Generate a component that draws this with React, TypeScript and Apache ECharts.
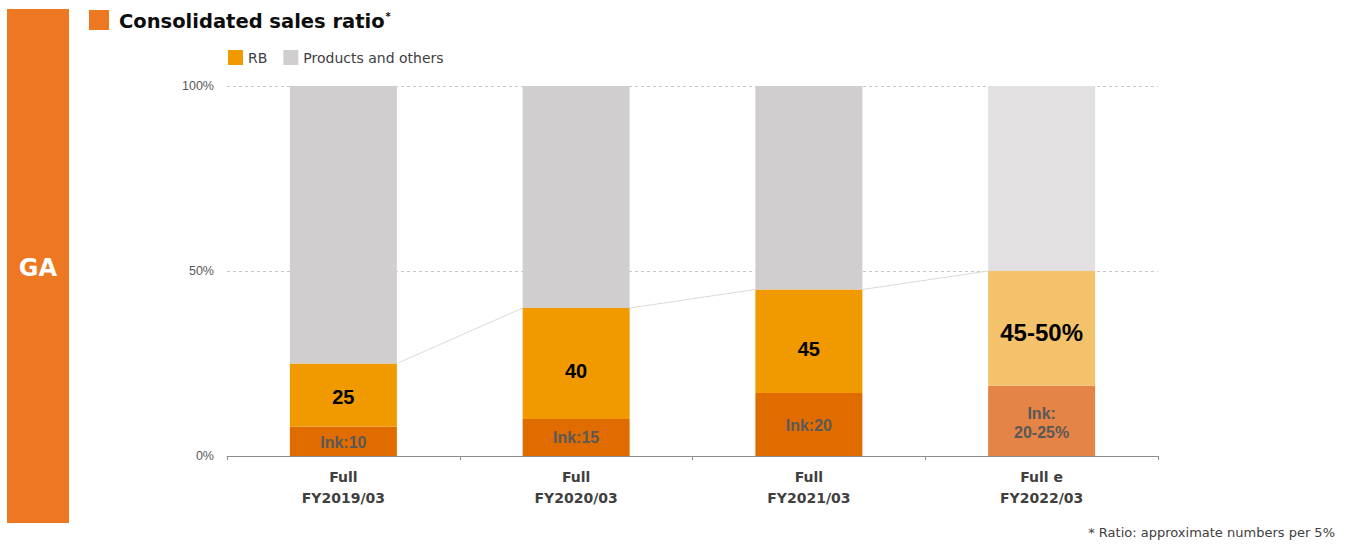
import React, { useEffect, useRef } from "react";
import * as echarts from "echarts";

const categories = ["Full\nFY2019/03", "Full\nFY2020/03", "Full\nFY2021/03", "Full e\nFY2022/03"];
const inkShare = [8, 10, 17, 19];
const rbTotal = [25, 40, 45, 50];
const inkLabels = ["Ink:10", "Ink:15", "Ink:20", "Ink:\n20-25%"];
const rbLabels = ["25", "40", "45", "45-50%"];
const yTicks = [0, 50, 100];

const inkColors = ["#E06C00", "#E06C00", "#E06C00", "#E48446"];
const rbColors = ["#F09A00", "#F09A00", "#F09A00", "#F4C26B"];
const otherColors = ["#D0CECE", "#D0CECE", "#D0CECE", "#E2E0E0"];
const rbLabelOffsets = [2, 7, 8, 4];
const rbLabelSizes = [20, 20, 20, 24];
const inkLabelOffsets = [1, 0, 1, 2];

const BAR_W = 107;

export default function App() {
  const ref = useRef<HTMLDivElement>(null);
  useEffect(() => {
    const chart = echarts.init(ref.current!, null, { renderer: "svg" });
    const option: any = {
      animation: false,
      backgroundColor: "#ffffff",
      grid: { left: 227, right: 194, top: 86, bottom: 89 },
      legend: {
        left: 223,
        top: 45,
        itemWidth: 15,
        itemHeight: 15,
        itemGap: 16,
        icon: "rect",
        data: ["RB", "Products and others"],
        textStyle: { fontFamily: "DejaVu Sans", fontSize: 14, color: "#404040" },
      },
      xAxis: {
        type: "category",
        data: categories,
        axisLine: { lineStyle: { color: "#8C8C8C", width: 1 } },
        axisTick: { show: true, length: 4, lineStyle: { color: "#8C8C8C" } },
        axisLabel: {
          margin: 10,
          fontFamily: "DejaVu Sans",
          fontWeight: "bold",
          fontSize: 14,
          lineHeight: 21,
          color: "#404040",
        },
      },
      yAxis: {
        type: "value",
        min: yTicks[0],
        max: yTicks[yTicks.length - 1],
        interval: 50,
        axisLine: { show: false },
        axisTick: { show: false },
        axisLabel: {
          margin: 13,
          formatter: "{value}%",
          fontFamily: "Liberation Sans",
          fontSize: 12.5,
          color: "#595959",
        },
        splitLine: { lineStyle: { type: [3, 3], color: "#C8C8C8", width: 1 } },
      },
      series: [
        {
          name: "Ink",
          type: "bar",
          stack: "a",
          barWidth: BAR_W,
          data: inkShare.map((v, i) => ({
            value: v,
            itemStyle: { color: inkColors[i] },
            label: { offset: [0, inkLabelOffsets[i]] },
          })),
          label: {
            show: true,
            position: "inside",
            formatter: (p: any) => inkLabels[p.dataIndex],
            fontFamily: "Liberation Sans",
            fontWeight: "bold",
            fontSize: 16,
            lineHeight: 19,
            color: "#595959",
          },
        },
        {
          name: "RB",
          type: "bar",
          stack: "a",
          barWidth: BAR_W,
          itemStyle: { color: rbColors[0] },
          data: rbTotal.map((v, i) => ({
            value: v - inkShare[i],
            itemStyle: { color: rbColors[i] },
            label: { offset: [0, rbLabelOffsets[i]], fontSize: rbLabelSizes[i] },
          })),
          label: {
            show: true,
            position: "inside",
            formatter: (p: any) => rbLabels[p.dataIndex],
            fontFamily: "Liberation Sans",
            fontWeight: "bold",
            fontSize: 20,
            color: "#000000",
          },
        },
        {
          name: "Products and others",
          type: "bar",
          stack: "a",
          barWidth: BAR_W,
          itemStyle: { color: otherColors[0] },
          data: rbTotal.map((v, i) => ({ value: 100 - v, itemStyle: { color: otherColors[i] } })),
        },
        {
          name: "connector",
          type: "custom",
          silent: true,
          z: 1,
          data: rbTotal.map((v, i) => [i, v]),
          encode: { x: 0, y: 1 },
          renderItem: (params: any, api: any) => {
            const i = params.dataIndex;
            if (i >= rbTotal.length - 1) return null;
            const p1 = api.coord([i, rbTotal[i]]);
            const p2 = api.coord([i + 1, rbTotal[i + 1]]);
            const h = BAR_W / 2;
            return {
              type: "line",
              shape: { x1: p1[0] + h, y1: p1[1], x2: p2[0] - h, y2: p2[1] },
              style: { stroke: "#DADADA", lineWidth: 1 },
            };
          },
        },
      ],
      graphic: [
        { type: "rect", shape: { x: 7, y: 9, width: 62, height: 514 }, style: { fill: "#EE7722" } },
        {
          type: "text",
          x: 38,
          y: 268,
          style: {
            text: "GA",
            fill: "#ffffff",
            fontFamily: "DejaVu Sans",
            fontWeight: "bold",
            fontSize: 24,
            align: "center",
            verticalAlign: "middle",
          },
        },
        { type: "rect", shape: { x: 89, y: 10, width: 20, height: 20 }, style: { fill: "#EE7722" } },
        {
          type: "text",
          x: 119,
          y: 21,
          style: {
            text: "{a|Consolidated sales ratio}{s|*}",
            verticalAlign: "middle",
            rich: {
              a: { fontFamily: "DejaVu Sans", fontWeight: "bold", fontSize: 19.5, fill: "#0D0D0D" },
              s: { fontFamily: "DejaVu Sans", fontWeight: "bold", fontSize: 10, fill: "#0D0D0D", verticalAlign: "top", padding: [0, 0, 8, 1] },
            },
          },
        },
        {
          type: "text",
          x: 1335,
          y: 532,
          style: {
            text: "* Ratio: approximate numbers per 5%",
            fill: "#404040",
            fontFamily: "DejaVu Sans",
            fontSize: 13,
            align: "right",
            verticalAlign: "middle",
          },
        },
      ],
    };
    chart.setOption(option);
    return () => chart.dispose();
  }, []);
  return (
    <div
      ref={ref}
      style={{ position: "fixed", left: 0, top: 0, width: 1352, height: 545 }}
    />
  );
}
